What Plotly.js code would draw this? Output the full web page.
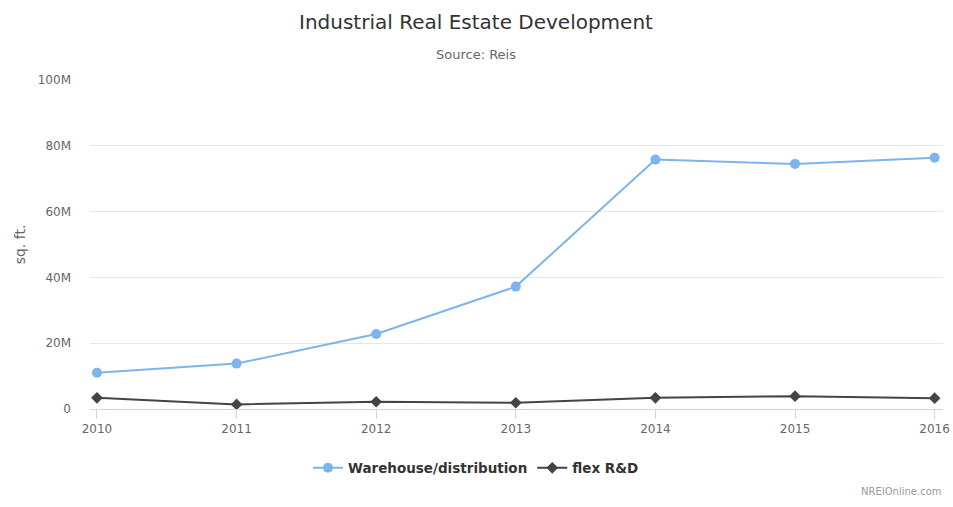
<!DOCTYPE html>
<html><head><meta charset="utf-8">
<script src="https://cdn.plot.ly/plotly-3.0.1.min.js"></script>
<style>html,body{margin:0;padding:0;background:#fff}#chart{width:953px;height:507px}</style>
</head><body><div id="chart"></div>
<script>
const years = [2010, 2011, 2012, 2013, 2014, 2015, 2016];
const warehouse = [11.0e6, 13.8e6, 22.8e6, 37.2e6, 75.8e6, 74.5e6, 76.4e6];
const flexRD = [3.4e6, 1.4e6, 2.2e6, 1.9e6, 3.4e6, 3.9e6, 3.3e6];
const yTickVals = [0, 20e6, 40e6, 60e6, 80e6, 100e6];
const yTickText = ['0', '20M', '40M', '60M', '80M', '100M'];

const font = 'DejaVu Sans, Verdana, sans-serif';
const traces = [
  {x: years, y: warehouse, name: 'Warehouse/distribution', type: 'scatter', mode: 'lines+markers',
   line: {color: '#7cb5ec', width: 2}, marker: {symbol: 'circle', size: 10, color: '#7cb5ec'}},
  {x: years, y: flexRD, name: 'flex R&D', type: 'scatter', mode: 'lines+markers',
   line: {color: '#434348', width: 2}, marker: {symbol: 'diamond', size: 9, color: '#434348'}}
];
const PH = 329; // plot height in px
function py(p) { return (409 - p) / PH; }
const layout = {
  width: 953, height: 507,
  margin: {l: 90, r: 10, t: 80, b: 98, autoexpand: false},
  paper_bgcolor: '#fff', plot_bgcolor: '#fff',
  font: {family: font, color: '#666', size: 12},
  xaxis: {range: [2009.95, 2016.06], tickvals: years, ticktext: years.map(String),
          showgrid: false, zeroline: false, showline: true, linecolor: '#ccd6eb', linewidth: 1,
          ticks: 'outside', ticklen: 9, tickcolor: '#ccd6eb', tickfont: {size: 12, color: '#666'}, fixedrange: true},
  yaxis: {range: [0, 100e6], tickvals: yTickVals, ticktext: yTickText, showgrid: true, gridcolor: '#e6e6e6',
          zeroline: false, showline: false, ticks: '', ticklabelstandoff: 18,
          tickfont: {size: 12, color: '#666'},
          title: {text: 'sq. ft.', font: {size: 14, color: '#666'}, standoff: 8}},
  legend: {orientation: 'h', x: (476 - 90) / 853, xanchor: 'center', y: py(468), yanchor: 'middle',
           font: {family: font, size: 13.5, color: '#333', weight: 'bold'}, itemwidth: 30},
  showlegend: true,
  annotations: [
    {text: 'Industrial Real Estate Development', xref: 'paper', yref: 'paper', x: (476 - 90) / 853, y: py(22),
     xanchor: 'center', yanchor: 'middle', showarrow: false, font: {family: font, size: 20, color: '#333'}},
    {text: 'Source: Reis', xref: 'paper', yref: 'paper', x: (476 - 90) / 853, y: py(55),
     xanchor: 'center', yanchor: 'middle', showarrow: false, font: {family: font, size: 13, color: '#666'}},
    {text: 'NREIOnline.com', xref: 'paper', yref: 'paper', x: 1.001, y: py(491), xanchor: 'right', yanchor: 'middle',
     showarrow: false, font: {family: font, size: 10, color: '#999'}}
  ]
};
Plotly.newPlot('chart', traces, layout, {displayModeBar: false, staticPlot: true});
</script></body></html>
